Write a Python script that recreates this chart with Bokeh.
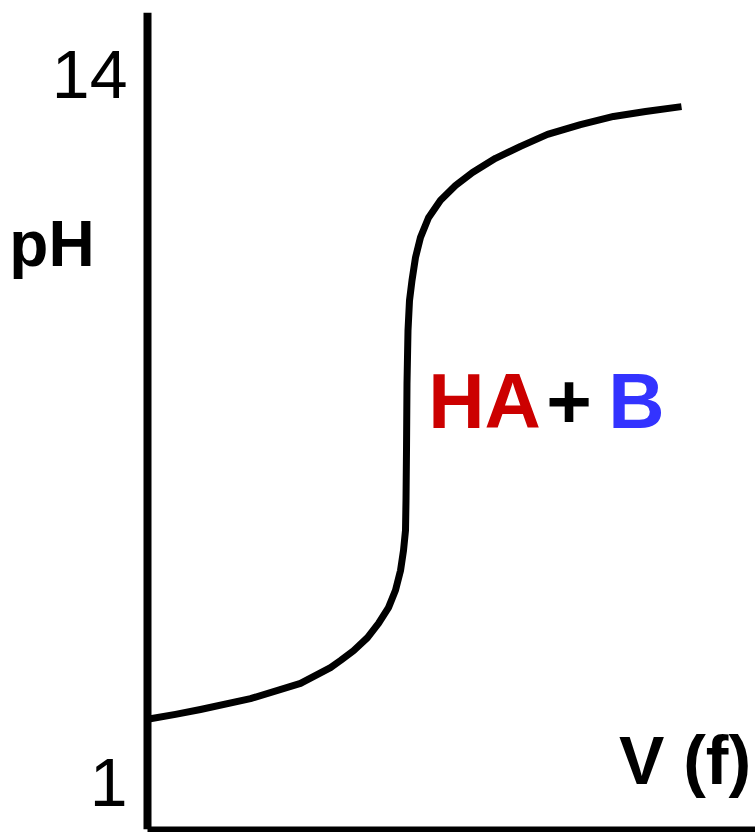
from bokeh.plotting import figure
from bokeh.models import Range1d, FixedTicker, Label
from bokeh.embed import file_html
from bokeh.resources import INLINE

# titrant volume (arbitrary units) and pH
volume = [0.0, 2.8, 5.3, 10.3, 15.3, 18.3, 19.3, 20.6, 22.0, 23.1, 24.1, 24.8,
          25.3, 25.6, 25.8, 25.85, 25.9, 25.95, 26.05, 26.2, 26.45, 26.8, 27.3,
          28.1, 29.3, 30.8, 32.5, 34.8, 37.3, 40.0, 43.3, 46.6, 49.8, 53.4]
ph = [2.16, 2.25, 2.34, 2.54, 2.82, 3.11, 3.24, 3.42, 3.66, 3.92, 4.21, 4.53,
      4.89, 5.26, 5.63, 6.18, 7.10, 8.33, 9.30, 9.85, 10.22, 10.64, 11.01,
      11.37, 11.69, 11.96, 12.20, 12.46, 12.68, 12.90, 13.08, 13.23, 13.32, 13.41]
ph_ticks = [1, 14]

FONT = "Liberation Sans Narrow, Arial Narrow, Liberation Sans, Arial, sans-serif"

p = figure(width=755, height=832,
           x_range=Range1d(-14.7, 60.8), y_range=Range1d(0.137, 15.138),
           output_backend="svg", toolbar_location=None,
           min_border_left=0, min_border_right=0,
           min_border_top=12, min_border_bottom=3)
p.outline_line_color = None
p.grid.visible = False
p.background_fill_color = "white"
p.border_fill_color = "white"

# y axis, drawn at V = 0
p.yaxis.fixed_location = 0
p.yaxis.ticker = FixedTicker(ticks=ph_ticks)
p.yaxis.axis_line_width = 8
p.yaxis.axis_line_color = "black"
p.yaxis.major_tick_line_color = None
p.yaxis.minor_tick_line_color = None
p.yaxis.major_tick_out = 0
p.yaxis.major_tick_in = 0
p.yaxis.major_label_standoff = 20
p.yaxis.major_label_text_font = FONT
p.yaxis.major_label_text_font_size = "68px"
p.yaxis.major_label_text_color = "black"

# x axis, starting at V = 0
p.xaxis.bounds = (0, 60.8)
p.xaxis.ticker = FixedTicker(ticks=[])
p.xaxis.axis_line_width = 6
p.xaxis.axis_line_color = "black"
p.xaxis.major_tick_line_color = None
p.xaxis.minor_tick_line_color = None
p.xaxis.major_tick_out = 0
p.xaxis.major_tick_in = 0
p.xaxis.major_label_standoff = 0

p.line(volume, ph, line_color="black", line_width=7, line_join="round")

def lab(text, x, y, color="black", size="78px", style="bold"):
    p.add_layout(Label(x=x, y=y, text=text, text_color=color, text_font=FONT,
                       text_font_size=size, text_font_style=style,
                       text_align="center", text_baseline="alphabetic"))

lab("pH", -9.55, 10.88, size="64px")
lab("V (f)", 53.75, 1.42, size="68px")
lab("HA", 33.7, 8.0, color="#CC0000")
lab("+", 42.15, 8.0)
lab("B", 48.9, 8.0, color="#3333FF")

open("out.html", "w").write(file_html(p, INLINE))
